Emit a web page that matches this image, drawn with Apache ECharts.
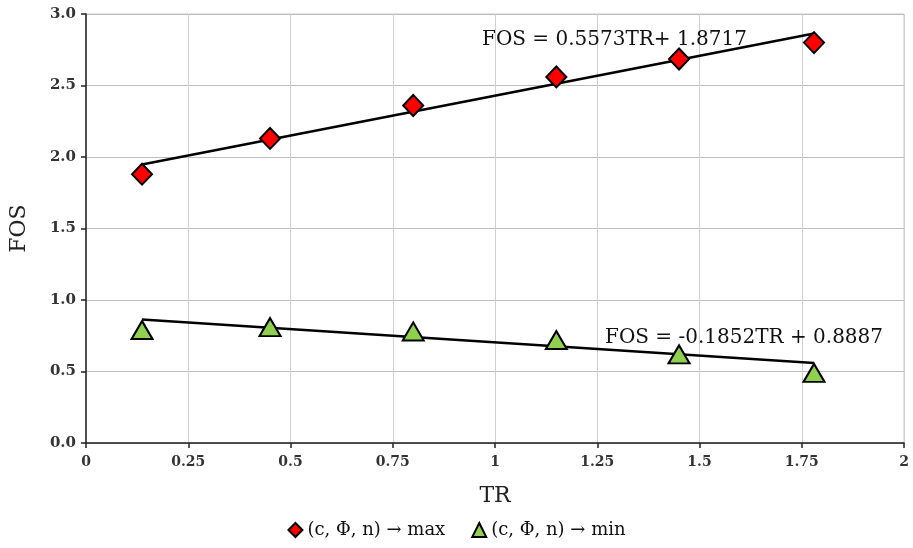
<!DOCTYPE html>
<html>
<head>
<meta charset="utf-8">
<script src="https://cdn.jsdelivr.net/npm/echarts@6/dist/echarts.min.js"></script>
<style>
  html, body { margin: 0; padding: 0; background: #fff; }
  #chart { width: 913px; height: 548px; }
</style>
</head>
<body>
<div id="chart"></div>
<script>
// Tensile ratio (TR) values and factor of safety for both parameter sets
const trValues = [0.137, 0.45, 0.80, 1.15, 1.45, 1.78];
const fosMax = [1.88, 2.13, 2.36, 2.56, 2.685, 2.80];
const fosMin = [0.79, 0.81, 0.78, 0.72, 0.62, 0.49];

// Linear fit coefficients [slope, intercept]
const fitMax = [0.5573, 1.8717];
const fitMin = [-0.1852, 0.8887];

const xTicks = ['0', '0.25', '0.5', '0.75', '1', '1.25', '1.5', '1.75', '2'];
const legendNames = ['(c, \u03A6, n) \u2192 max', '(c, \u03A6, n) \u2192 min'];

const serif = '"DejaVu Serif", "Liberation Serif", serif';

function pairs(xs, ys) { return xs.map((x, i) => [x, ys[i]]); }
function fitLine(coef) {
  const x0 = trValues[0], x1 = trValues[trValues.length - 1];
  return [[x0, coef[0] * x0 + coef[1]], [x1, coef[0] * x1 + coef[1]]];
}

const chart = echarts.init(document.getElementById('chart'));
chart.setOption({
  animation: false,
  backgroundColor: '#fff',
  grid: { left: 85, right: 9, top: 14, bottom: 105, show: true, borderColor: '#c8c8c8', borderWidth: 1 },
  xAxis: {
    type: 'value', min: 0, max: 2, interval: 0.25,
    name: 'TR', nameLocation: 'middle', nameGap: 42,
    nameTextStyle: { fontFamily: serif, fontSize: 22, color: '#222' },
    axisLine: { lineStyle: { color: '#222', width: 1.5 } },
    axisTick: { show: true, length: 5, lineStyle: { color: '#222', width: 1.5 } },
    axisLabel: {
      fontFamily: serif, fontSize: 14, fontWeight: 'bold', color: '#333', margin: 12,
      formatter: v => xTicks[Math.round(v / 0.25)]
    },
    splitLine: { show: true, lineStyle: { color: '#cfcfcf', width: 1 } }
  },
  yAxis: {
    type: 'value', min: 0, max: 3, interval: 0.5,
    name: 'FOS', nameLocation: 'middle', nameGap: 56,
    nameTextStyle: { fontFamily: serif, fontSize: 22, color: '#222' },
    axisLine: { show: true, lineStyle: { color: '#222', width: 1.5 } },
    axisTick: { show: true, length: 5, lineStyle: { color: '#222', width: 1.5 } },
    axisLabel: {
      fontFamily: serif, fontSize: 15, fontWeight: 'bold', color: '#333', margin: 10,
      formatter: v => v.toFixed(1)
    },
    splitLine: { show: true, lineStyle: { color: '#bdbdbd', width: 1 } }
  },
  legend: {
    bottom: 4, left: 'center', itemGap: 26, itemWidth: 14, itemHeight: 14,
    textStyle: { fontFamily: serif, fontSize: 18, color: '#111' },
    data: [
      { name: legendNames[0], icon: 'diamond' },
      { name: legendNames[1], icon: 'triangle' }
    ]
  },
  series: [
    {
      type: 'line', data: fitLine(fitMax), symbol: 'none', silent: true,
      lineStyle: { color: '#000', width: 2.5 }, z: 2
    },
    {
      type: 'line', data: fitLine(fitMin), symbol: 'none', silent: true,
      lineStyle: { color: '#000', width: 2.5 }, z: 2
    },
    {
      name: legendNames[0], type: 'scatter', data: pairs(trValues, fosMax),
      symbol: 'diamond', symbolSize: [20, 21], z: 3,
      itemStyle: { color: '#ff0000', borderColor: '#000', borderWidth: 2, opacity: 1 }
    },
    {
      name: legendNames[1], type: 'scatter', data: pairs(trValues, fosMin),
      symbol: 'triangle', symbolSize: [21, 18], z: 3,
      itemStyle: { color: '#8fd14f', borderColor: '#000', borderWidth: 2, opacity: 1 }
    }
  ],
  graphic: [
    {
      type: 'text', left: 482, top: 30, z: 10,
      style: { text: 'FOS = ' + fitMax[0] + 'TR+ ' + fitMax[1], font: '20px ' + serif, fill: '#111' }
    },
    {
      type: 'text', left: 605, top: 328, z: 10,
      style: { text: 'FOS = ' + fitMin[0] + 'TR + ' + fitMin[1], font: '20px ' + serif, fill: '#111' }
    }
  ]
});
</script>
</body>
</html>
